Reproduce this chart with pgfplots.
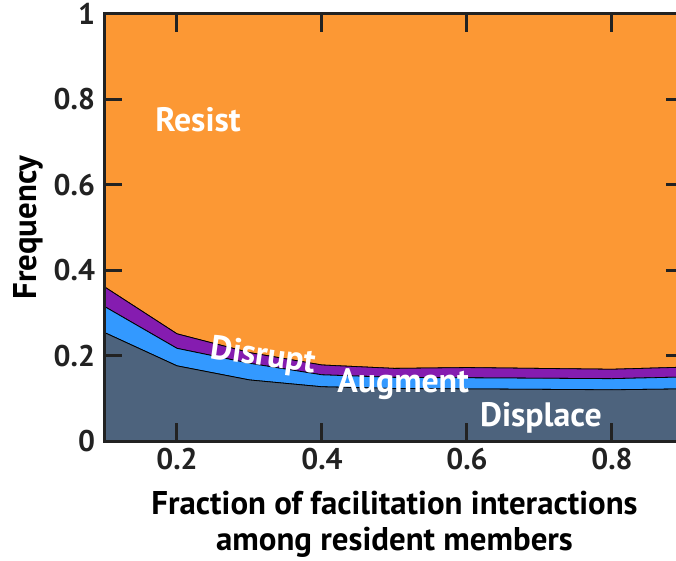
\documentclass[border=0pt]{standalone}
\usepackage{pgfplots}
\pgfplotsset{compat=1.18}
\usepackage{fontspec}
\setmainfont{PT Sans}
\definecolor{displace}{RGB}{77,99,125}
\definecolor{augment}{RGB}{51,153,255}
\definecolor{disrupt}{RGB}{133,28,176}
\definecolor{resist}{RGB}{252,152,52}
\definecolor{axisgray}{RGB}{34,34,34}
\begin{document}
\begin{tikzpicture}
\begin{axis}[
    scale only axis,
    width=580bp, height=427bp,
    xmin=0.1, xmax=0.9,
    ymin=0, ymax=1,
    stack plots=y,
    axis on top,
    axis line style={line width=3bp, draw=axisgray},
    tick style={line width=3bp, draw=axisgray},
    major tick length=18bp,
    tick align=inside,
    xtick={0.2,0.4,0.6,0.8},
    ytick={0,0.2,0.4,0.6,0.8,1},
    /pgf/number format/assume math mode=true,
    ticklabel style={font=\fontsize{30}{30}\selectfont\bfseries, text=axisgray},
    yticklabel style={xshift=-6bp},
    xticklabel style={yshift=-4bp},
    xlabel={Fraction of facilitation interactions\\among resident members},
    xlabel style={font=\fontsize{33}{36}\selectfont\bfseries, align=center,
        at={(axis description cs:0.5,-0.117)}, anchor=north, inner sep=0pt},
    ylabel={Frequency},
    ylabel style={font=\fontsize{33}{33}\selectfont\bfseries,
        at={(axis description cs:-0.132,0.5)}, anchor=center, inner sep=0pt},
]
% Displace
\addplot[fill=displace, draw=black, line width=0.8bp] coordinates {
    (0.1,0.254) (0.2,0.176) (0.3,0.143) (0.4,0.127) (0.5,0.123)
    (0.6,0.122) (0.7,0.121) (0.8,0.120) (0.9,0.122)
} \closedcycle;
% Augment
\addplot[fill=augment, draw=black, line width=0.8bp] coordinates {
    (0.1,0.061) (0.2,0.041) (0.3,0.039) (0.4,0.028) (0.5,0.026)
    (0.6,0.026) (0.7,0.026) (0.8,0.026) (0.9,0.028)
} \closedcycle;
% Disrupt
\addplot[fill=disrupt, draw=black, line width=0.8bp] coordinates {
    (0.1,0.046) (0.2,0.034) (0.3,0.025) (0.4,0.023) (0.5,0.021)
    (0.6,0.024) (0.7,0.023) (0.8,0.022) (0.9,0.023)
} \closedcycle;
% Resist
\addplot[fill=resist, draw=black, line width=0.8bp] coordinates {
    (0.1,0.639) (0.2,0.749) (0.3,0.793) (0.4,0.822) (0.5,0.830)
    (0.6,0.828) (0.7,0.830) (0.8,0.832) (0.9,0.827)
} \closedcycle;
\coordinate (lresist) at (axis cs:0.229,0.752);
\coordinate (ldisrupt) at (axis cs:0.319,0.197);
\coordinate (laugment) at (axis cs:0.512,0.134);
\coordinate (ldisplace) at (axis cs:0.702,0.055);
\end{axis}
\tikzset{lbl/.style={text=white, inner sep=0pt, font=\fontsize{34}{34}\selectfont\bfseries}}
\node[lbl] at (lresist) {Resist};
\node[lbl, rotate=-8] at (ldisrupt) {Disrupt};
\node[lbl] at (laugment) {Augment};
\node[lbl] at (ldisplace) {Displace};
\pgfresetboundingbox
\path (current axis.south west) ++(-104.5bp,-120bp) rectangle ++(676bp,561bp);
\end{tikzpicture}
\end{document}
